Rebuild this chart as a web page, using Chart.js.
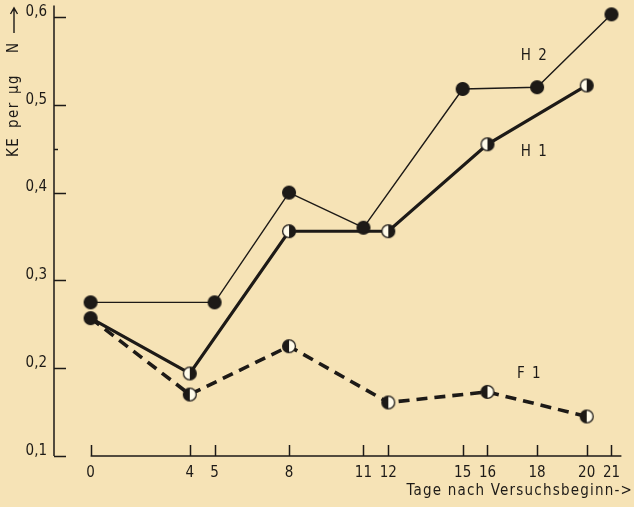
<!DOCTYPE html>
<html>
<head>
<meta charset="utf-8">
<title>KE per µg N</title>
<script src="https://cdn.jsdelivr.net/npm/chart.js@4.4.1/dist/chart.umd.min.js"></script>
<style>
  html, body { margin: 0; padding: 0; background: #f6e3b6; }
  canvas { display: block; }
</style>
</head>
<body>
<canvas id="keChart" width="634" height="507"></canvas>
<script>
// Values
const xTicks = [0, 4, 5, 8, 11, 12, 15, 16, 18, 20, 21];
const yTicks = [0.1, 0.2, 0.3, 0.4, 0.5, 0.6];
const yMinorTicks = [0.45];

const h2Days = [0, 5, 8, 11, 15, 18, 21];
const h2Values = [0.275, 0.275, 0.400, 0.360, 0.518, 0.520, 0.603];

const h1Days = [0, 4, 8, 12, 16, 20];
const h1Values = [0.257, 0.194, 0.356, 0.356, 0.455, 0.522];

const f1Days = [0, 4, 8, 12, 16, 20];
const f1Values = [0.257, 0.170, 0.225, 0.161, 0.173, 0.145];

const INK = '#1d1a17';
const PAPER = '#f6e3b6';
const FONT = "'DejaVu Sans Condensed', 'DejaVu Sans', sans-serif";

// Marker images: full dot, right half black, left half black
function makeMarker(kind) {
    const c = document.createElement('canvas');
    c.width = 16;
    c.height = 16;
    const g = c.getContext('2d');
    const r = 6.4;
    g.beginPath();
    g.arc(8, 8, r, 0, Math.PI * 2);
    g.fillStyle = kind === 'full' ? INK : '#fffbea';
    g.fill();
    if (kind !== 'full') {
        g.beginPath();
        if (kind === 'right') g.arc(8, 8, r, -Math.PI / 2, Math.PI / 2);
        else g.arc(8, 8, r, Math.PI / 2, Math.PI * 1.5);
        g.closePath();
        g.fillStyle = INK;
        g.fill();
    }
    g.beginPath();
    g.arc(8, 8, r, 0, Math.PI * 2);
    g.lineWidth = 1.3;
    g.strokeStyle = INK;
    g.stroke();
    return c;
}
const dotFull = makeMarker('full');
const dotRight = makeMarker('right');
const dotLeft = makeMarker('left');

const toPoints = (days, values) => days.map((d, i) => ({ x: d, y: values[i] }));

// Paper, axes with inward ticks and the hand lettering
const paperPlugin = {
    id: 'paper',
    beforeDraw(chart) {
        const ctx = chart.ctx;
        ctx.save();
        ctx.fillStyle = PAPER;
        ctx.fillRect(0, 0, chart.width, chart.height);
        ctx.restore();
    },
    beforeDatasetsDraw(chart) {
        const { ctx, scales: { x, y } } = chart;
        const left = chart.chartArea.left;
        const base = y.getPixelForValue(0.1);
        ctx.save();
        ctx.strokeStyle = INK;
        ctx.lineWidth = 1.5;
        ctx.beginPath();
        ctx.moveTo(left, y.getPixelForValue(0.613));
        ctx.lineTo(left, base);
        yTicks.forEach(v => {
            const py = Math.round(y.getPixelForValue(v)) + 0.5;
            ctx.moveTo(left, py);
            ctx.lineTo(left + 12, py);
        });
        yMinorTicks.forEach(v => {
            const py = Math.round(y.getPixelForValue(v)) + 0.5;
            ctx.moveTo(left, py);
            ctx.lineTo(left + 4, py);
        });
        ctx.moveTo(x.getPixelForValue(0), base);
        ctx.lineTo(x.getPixelForValue(21.4), base);
        xTicks.forEach(v => {
            const px = Math.round(x.getPixelForValue(v)) + 0.5;
            ctx.moveTo(px, base);
            ctx.lineTo(px, base - 11);
        });
        ctx.stroke();
        ctx.restore();
    },
    afterDatasetsDraw(chart) {
        const { ctx, scales: { x, y } } = chart;
        ctx.save();
        ctx.fillStyle = INK;
        ctx.font = '15px ' + FONT;
        ctx.letterSpacing = '1.5px';
        ctx.textBaseline = 'middle';
        ctx.textAlign = 'center';
        ctx.fillText('H 2', x.getPixelForValue(17.9), y.getPixelForValue(0.556));
        ctx.fillText('H 1', x.getPixelForValue(17.9), y.getPixelForValue(0.446));
        ctx.fillText('F 1', x.getPixelForValue(17.7), y.getPixelForValue(0.193));

        // horizontal axis title, right aligned under the last ticks
        ctx.letterSpacing = '1.2px';
        ctx.textAlign = 'right';
        ctx.fillText('Tage nach Versuchsbeginn->', 633, 491);

        // vertical axis title, reading upwards
        ctx.letterSpacing = '1.5px';
        ctx.translate(14, 157);
        ctx.rotate(-Math.PI / 2);
        ctx.textAlign = 'left';
        [['KE', 0], ['per', 29], ['µg', 63], ['N', 104]].forEach(([t, off]) => ctx.fillText(t, off, 0));
        ctx.strokeStyle = INK;
        ctx.lineWidth = 1.4;
        ctx.beginPath();
        ctx.moveTo(124, 0);
        ctx.lineTo(149, 0);
        ctx.moveTo(143, -3.5);
        ctx.lineTo(149, 0);
        ctx.lineTo(143, 3.5);
        ctx.stroke();
        ctx.restore();
    }
};

const tickFont = { family: FONT, size: 15 };

new Chart(document.getElementById('keChart'), {
    type: 'line',
    data: {
        datasets: [
            {
                label: 'H 2',
                data: toPoints(h2Days, h2Values),
                borderColor: INK,
                borderWidth: 1.4,
                pointStyle: dotFull,
                pointRadius: 6.5,
                clip: false
            },
            {
                label: 'H 1',
                data: toPoints(h1Days, h1Values),
                borderColor: INK,
                borderWidth: 3.2,
                pointStyle: ctx => ctx.dataIndex === 0 ? dotFull : dotRight,
                pointRadius: 6.5,
                clip: false
            },
            {
                label: 'F 1',
                data: toPoints(f1Days, f1Values),
                borderColor: INK,
                borderWidth: 3.6,
                borderDash: [11, 7],
                pointStyle: dotLeft,
                pointRadius: ctx => ctx.dataIndex === 0 ? 0 : 6.5,
                clip: false
            }
        ]
    },
    options: {
        responsive: false,
        animation: false,
        devicePixelRatio: 1,
        layout: { padding: { top: 17, right: 3, left: 0, bottom: 0 } },
        plugins: {
            legend: { display: false },
            tooltip: { enabled: false }
        },
        scales: {
            x: {
                type: 'linear',
                min: -1.475,
                max: 21.5,
                afterBuildTicks: scale => { scale.ticks = xTicks.map(v => ({ value: v })); },
                afterFit: scale => { scale.height = 51; },
                grid: { display: false, drawTicks: false },
                border: { display: false },
                ticks: {
                    autoSkip: false,
                    maxRotation: 0,
                    padding: 8,
                    color: INK,
                    font: tickFont,
                    callback: v => String(v)
                }
            },
            y: {
                min: 0.1,
                max: 0.6,
                afterBuildTicks: scale => { scale.ticks = yTicks.map(v => ({ value: v })); },
                afterFit: scale => { scale.width = 54; },
                grid: { display: false, drawTicks: false },
                border: { display: false },
                ticks: {
                    padding: 7,
                    labelOffset: -5,
                    color: INK,
                    font: tickFont,
                    callback: v => v.toFixed(1).replace('.', ',')
                }
            }
        }
    },
    plugins: [paperPlugin]
});
</script>
</body>
</html>
